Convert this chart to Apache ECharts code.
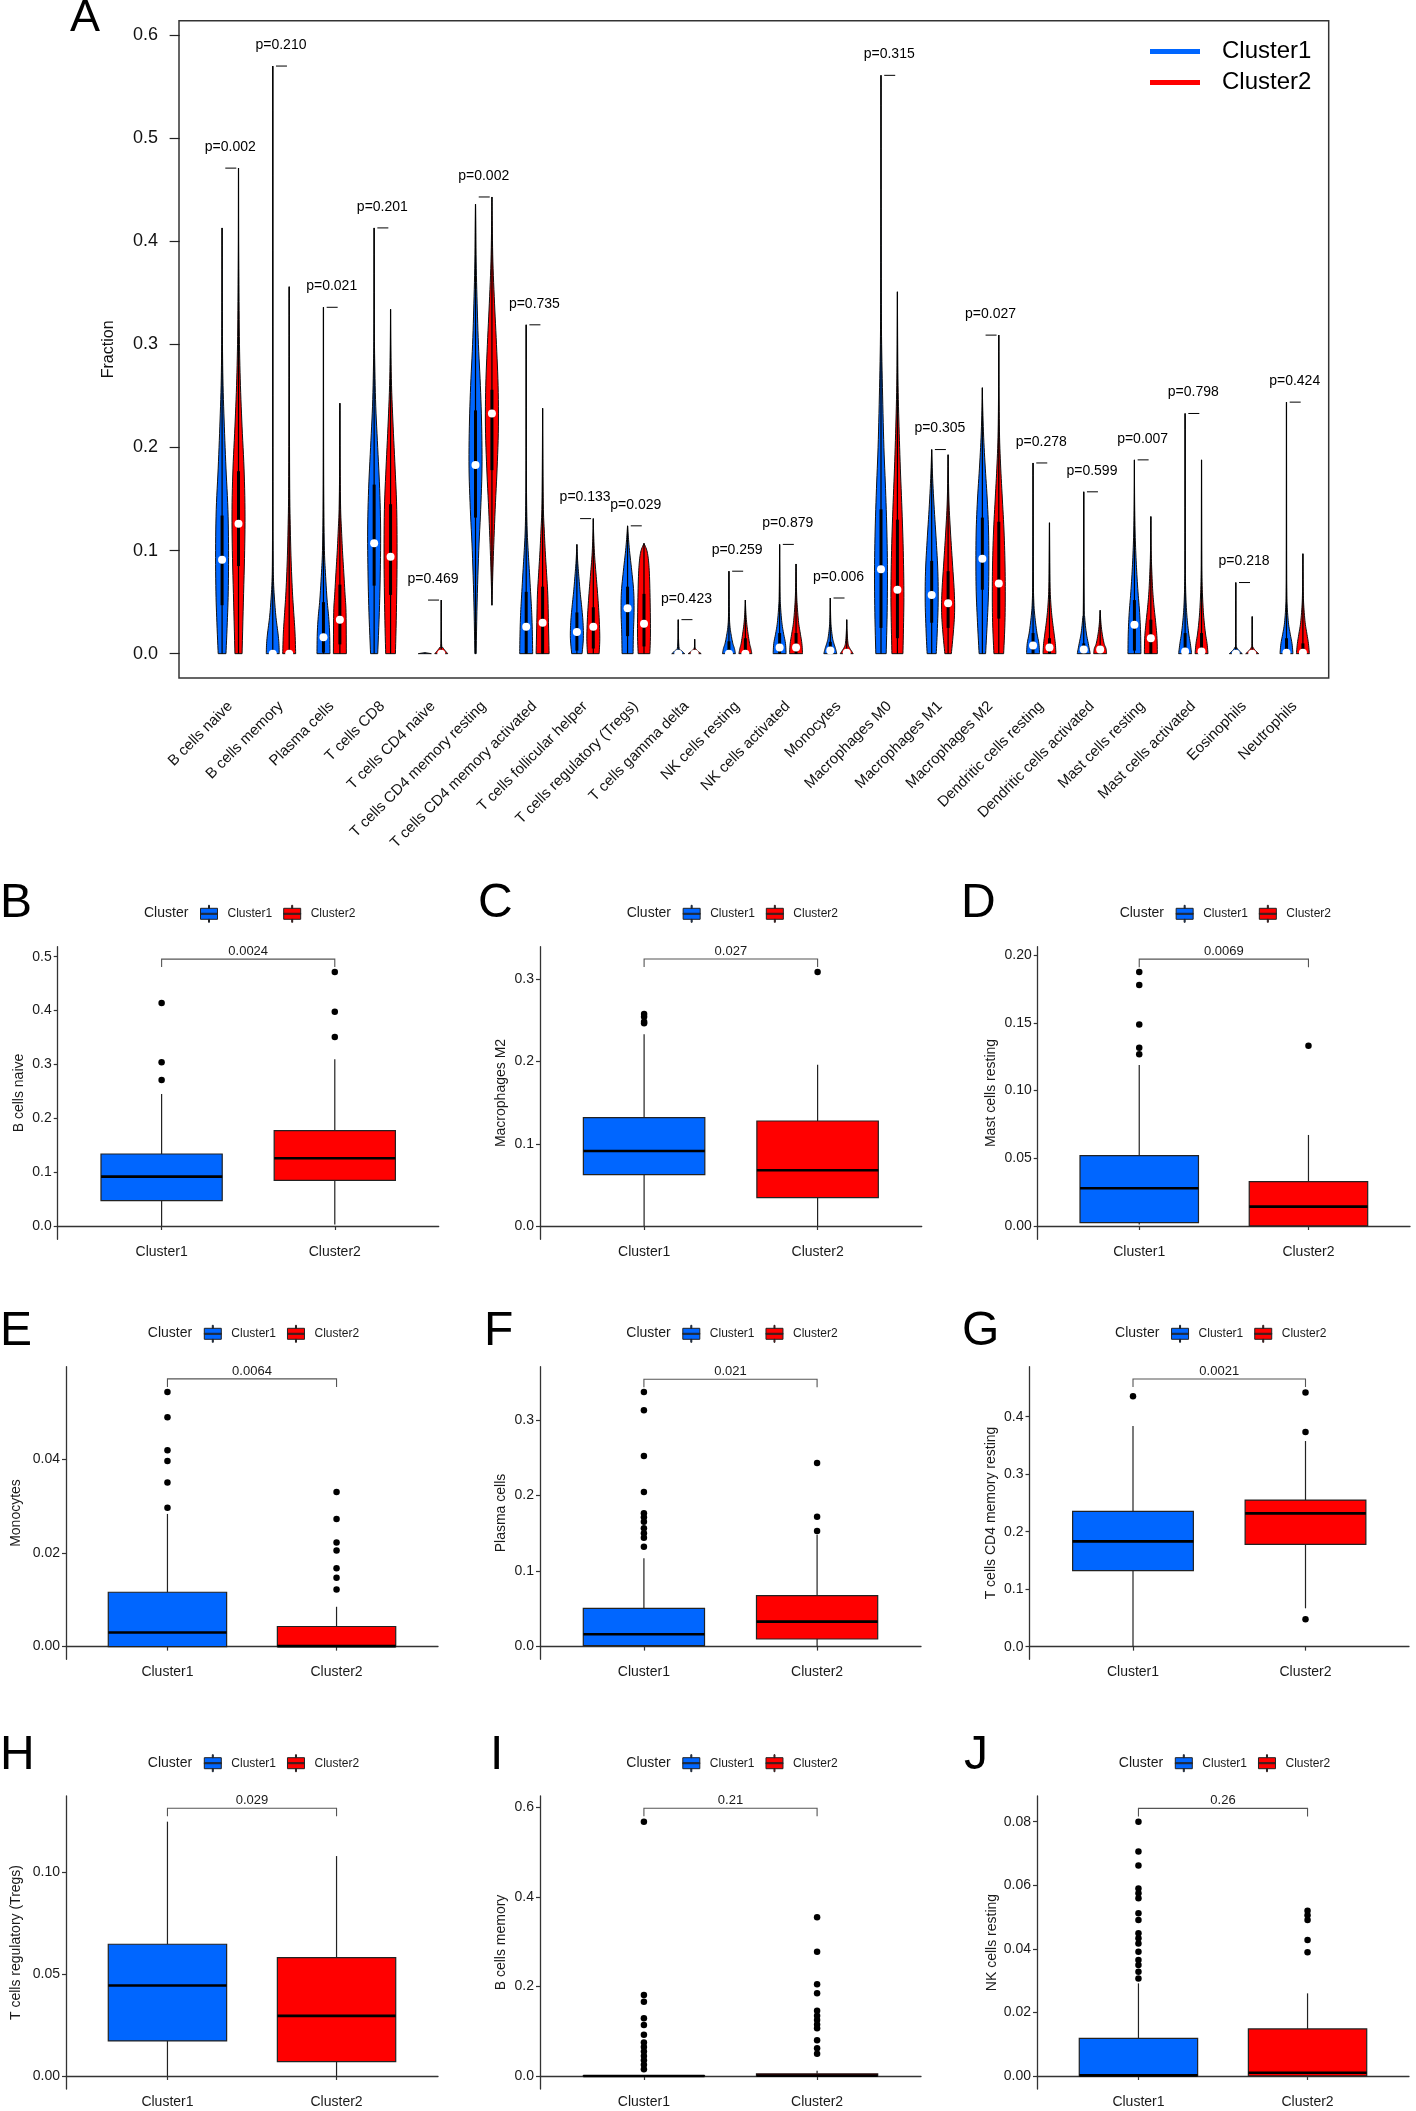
<!DOCTYPE html>
<html><head><meta charset="utf-8">
<script src="https://cdn.jsdelivr.net/npm/echarts@6/dist/echarts.min.js"></script>
<style>html,body{margin:0;padding:0;background:#fff}#c{width:1416px;height:2111px}</style>
</head><body><div id="c"></div>
<script>
const FONT = '"Liberation Sans", Arial, sans-serif';
const BLUE = '#0066FF', RED = '#FF0000';

// ---------- Panel A data ----------
const cellTypes = ['B cells naive','B cells memory','Plasma cells','T cells CD8','T cells CD4 naive','T cells CD4 memory resting','T cells CD4 memory activated','T cells follicular helper','T cells regulatory (Tregs)','T cells gamma delta','NK cells resting','NK cells activated','Monocytes','Macrophages M0','Macrophages M1','Macrophages M2','Dendritic cells resting','Dendritic cells activated','Mast cells resting','Mast cells activated','Eosinophils','Neutrophils'];
const pValues = ['0.002','0.210','0.021','0.201','0.469','0.002','0.735','0.133','0.029','0.423','0.259','0.879','0.006','0.315','0.305','0.027','0.278','0.599','0.007','0.798','0.218','0.424'];
const c1Max = [0.413,0.570,0.336,0.413,0.001,0.436,0.319,0.106,0.124,0.033,0.080,0.106,0.054,0.561,0.198,0.258,0.185,0.157,0.188,0.233,0.069,0.244];
const c2Max = [0.471,0.356,0.243,0.334,0.052,0.443,0.238,0.131,0.107,0.014,0.052,0.087,0.033,0.351,0.193,0.309,0.127,0.042,0.133,0.188,0.036,0.097];
const c1Median = [0.091,0,0.016,0.107,null,0.183,0.026,0.021,0.044,0,0,0.006,0.003,0.082,0.057,0.092,0.008,0.004,0.028,0.002,0,0.001];
const c2Median = [0.126,0,0.033,0.094,0,0.233,0.030,0.026,0.029,0,0,0.006,0.001,0.062,0.049,0.068,0.006,0.004,0.015,0.002,0,0.001];
const c1Q1 = [0.047,0,0.001,0.066,0,0.132,0,0.003,0.017,0,0,0,0,0.025,0.03,0.062,0,0,0.003,0,0,0];
const c1Q3 = [0.134,0.001,0.05,0.164,0,0.236,0.06,0.04,0.065,0,0.012,0.02,0.0115,0.14,0.09,0.132,0.02,0.01,0.052,0.02,0,0.015];
const c2Q1 = [0.085,0,0.009,0.057,0,0.178,0,0.005,0.007,0,0,0,0,0.015,0.025,0.034,0,0,0,0,0,0];
const c2Q3 = [0.177,0.003,0.067,0.145,0,0.256,0.065,0.045,0.058,0,0.015,0.02,0.0045,0.13,0.08,0.128,0.015,0.008,0.033,0.02,0,0.01];
// relative density profiles [value, relative density]
const c1Density = [
 [[0,.6],[.03,.8],[.06,.95],[.1,1],[.14,.9],[.18,.6],[.22,.35],[.26,.15],[.3,.06],[.35,.02]],
 [[0,1],[.01,.95],[.02,.8],[.035,.5],[.05,.3],[.07,.12],[.1,.05],[.2,.02]],
 [[0,1],[.02,.95],[.036,.8],[.053,.55],[.079,.3],[.1,.15],[.14,.06],[.2,.02]],
 [[0,.55],[.04,.8],[.08,.95],[.12,1],[.16,.85],[.2,.55],[.24,.25],[.28,.1],[.32,.03]],
 [[0,1]],
 [[0,.1],[.05,.25],[.1,.5],[.14,.8],[.18,1],[.22,.95],[.26,.75],[.3,.45],[.34,.25],[.38,.1],[.42,.03]],
 [[0,1],[.02,.95],[.04,.85],[.057,.7],[.079,.5],[.1,.3],[.12,.15],[.15,.06],[.2,.02]],
 [[0,.8],[.015,1],[.03,.95],[.045,.75],[.06,.5],[.075,.3],[.09,.12]],
 [[0,.85],[.02,.9],[.04,1],[.06,.95],[.08,.65],[.1,.3],[.115,.1]],
 [[0,1],[.003,.5],[.007,.1]],
 [[0,1],[.005,.85],[.01,.6],[.018,.35],[.027,.15],[.04,.06]],
 [[0,1],[.01,.9],[.02,.6],[.03,.35],[.045,.15],[.06,.06]],
 [[0,1],[.005,.8],[.01,.55],[.015,.35],[.025,.15],[.035,.06]],
 [[0,.8],[.04,.95],[.08,1],[.12,.9],[.16,.7],[.2,.45],[.25,.25],[.3,.1],[.35,.04],[.45,.01]],
 [[0,.7],[.02,.85],[.05,1],[.08,.95],[.11,.7],[.14,.4],[.17,.15]],
 [[0,.5],[.03,.75],[.06,.95],[.09,1],[.12,.95],[.15,.75],[.18,.45],[.21,.2],[.24,.05]],
 [[0,1],[.01,.9],[.02,.6],[.035,.3],[.05,.12],[.08,.04]],
 [[0,1],[.01,.7],[.02,.4],[.035,.15],[.05,.06]],
 [[0,1],[.02,.95],[.04,.8],[.06,.55],[.08,.35],[.1,.2],[.12,.1],[.15,.03]],
 [[0,1],[.01,.8],[.02,.55],[.035,.3],[.05,.15],[.07,.06],[.1,.02]],
 [[0,1],[.003,.5],[.006,.15],[.01,.04]],
 [[0,1],[.01,.85],[.02,.55],[.03,.3],[.045,.12],[.06,.05],[.1,.02]]
];
const c2Density = [
 [[0,.55],[.05,.75],[.1,.95],[.14,1],[.18,.85],[.22,.55],[.26,.3],[.3,.15],[.35,.07],[.4,.02]],
 [[0,1],[.02,.9],[.04,.7],[.06,.5],[.09,.3],[.12,.18],[.16,.08],[.25,.03]],
 [[0,1],[.04,.95],[.057,.8],[.079,.6],[.1,.4],[.12,.25],[.14,.12],[.18,.04]],
 [[0,.75],[.04,.9],[.09,1],[.14,.95],[.18,.7],[.22,.4],[.26,.15],[.3,.04]],
 [[0,1],[.003,.6],[.006,.25],[.01,.05]],
 [[.047,0],[.07,.1],[.1,.25],[.14,.5],[.18,.8],[.22,1],[.26,.95],[.3,.7],[.34,.4],[.38,.15],[.42,.04]],
 [[0,1],[.03,.9],[.057,.8],[.079,.6],[.1,.4],[.12,.25],[.14,.12],[.18,.05]],
 [[0,.9],[.015,1],[.035,.9],[.055,.7],[.075,.45],[.095,.2],[.115,.06]],
 [[0,.9],[.02,1],[.05,.95],[.075,.85],[.09,.7],[.1,.45]],
 [[0,1],[.003,.4],[.006,.05]],
 [[0,1],[.005,.85],[.01,.65],[.02,.4],[.03,.2],[.04,.08]],
 [[0,1],[.01,.9],[.02,.65],[.03,.4],[.045,.2],[.06,.08]],
 [[0,1],[.003,.7],[.006,.4],[.01,.2],[.02,.07]],
 [[0,.85],[.03,.95],[.06,1],[.1,.9],[.14,.7],[.18,.45],[.22,.25],[.26,.1],[.3,.04]],
 [[0,.5],[.02,.8],[.04,1],[.06,.95],[.09,.65],[.12,.35],[.15,.12]],
 [[0,.75],[.03,.95],[.06,1],[.09,.95],[.12,.8],[.15,.55],[.18,.3],[.21,.12],[.25,.04]],
 [[0,1],[.01,.9],[.02,.7],[.035,.4],[.05,.2],[.07,.08]],
 [[0,1],[.005,.9],[.01,.6],[.02,.3],[.03,.12]],
 [[0,1],[.015,.95],[.03,.75],[.045,.5],[.06,.3],[.08,.15],[.1,.05]],
 [[0,1],[.01,.85],[.02,.6],[.035,.35],[.05,.2],[.07,.08],[.1,.03]],
 [[0,1],[.003,.5],[.006,.15],[.01,.04]],
 [[0,1],[.01,.85],[.02,.6],[.03,.35],[.045,.15],[.06,.06]]
];
const yTicksA = [0,0.1,0.2,0.3,0.4,0.5,0.6];

// ---------- Box panels data ----------
const clusterNames = ['Cluster1','Cluster2'];
const boxLetters = ['B','C','D','E','F','G','H','I','J'];
const boxNames = ['B cells naive','Macrophages M2','Mast cells resting','Monocytes','Plasma cells','T cells CD4 memory resting','T cells regulatory (Tregs)','B cells memory','NK cells resting'];
const boxP = ['0.0024','0.027','0.0069','0.0064','0.021','0.0021','0.029','0.21','0.26'];
// [lower whisker, Q1, median, Q3, upper whisker]
const boxStats1 = [
 [0,0.047,0.0916,0.1337,0.245],
 [0,0.0624,0.0912,0.1318,0.2331],
 [0.001,0.0025,0.0278,0.0519,0.1188],
 [0,0,0.003,0.0116,0.0283],
 [0,0.0013,0.0163,0.0507,0.1169],
 [0,0.1322,0.1832,0.2354,0.3838],
 [0,0.0172,0.0444,0.0647,0.1249],
 [0,0,0,0.001,0.002],
 [0,0,0.0002,0.01185,0.02915]
];
const boxStats2 = [
 [0.003,0.0848,0.1257,0.177,0.3095],
 [0,0.0345,0.0677,0.1277,0.1962],
 [0,0,0.0143,0.0327,0.0672],
 [0,0,0.0001,0.0043,0.0085],
 [0,0.0101,0.0331,0.0675,0.148],
 [0.0667,0.178,0.2319,0.255,0.3577],
 [0,0.007,0.0295,0.0581,0.108],
 [0,0,0.001,0.005,0.012],
 [0,0,0.001,0.0148,0.026]
];
const boxOut1 = [
 [0.414,0.304,0.271],
 [0.2578,0.2546,0.2485,0.2465],
 [0.1875,0.1779,0.1488,0.1316,0.1267],
 [0.0543,0.0489,0.0419,0.0396,0.035,0.0296],
 [0.337,0.313,0.2523,0.2047,0.1765,0.1712,0.1654,0.1566,0.15,0.1442,0.1323],
 [0.4354],
 [],
 [0.5687,0.181,0.166,0.129,0.114,0.092,0.075,0.065,0.055,0.045,0.035,0.025,0.015],
 [0.08,0.0706,0.0662,0.059,0.0575,0.0559,0.0512,0.0491,0.0449,0.0433,0.0417,0.0391,0.0365,0.0349,0.0328,0.0307]
];
const boxOut2 = [
 [0.4717,0.398,0.351],
 [0.3089],
 [0.1331],
 [0.033,0.0272,0.0222,0.0205,0.0167,0.0147,0.0122],
 [0.243,0.172,0.153],
 [0.4423,0.3733,0.0475],
 [],
 [0.355,0.278,0.205,0.185,0.146,0.135,0.125,0.115,0.107,0.08,0.062,0.05],
 [0.052,0.0506,0.0491,0.0428,0.0389]
];
const boxBracket = [0.4956,0.3247,0.197,0.0571,0.354,0.4655,0.1315,0.5985,0.0842];
const boxYTicks = [
 [0,0.1,0.2,0.3,0.4,0.5],
 [0,0.1,0.2,0.3],
 [0,0.05,0.1,0.15,0.2],
 [0,0.02,0.04],
 [0,0.1,0.2,0.3],
 [0,0.1,0.2,0.3,0.4],
 [0,0.05,0.1],
 [0,0.2,0.4,0.6],
 [0,0.02,0.04,0.06,0.08]
];

// ---------- layout (positions only) ----------
const boxLayout = [
 {left:57.7, top:946.7, width:381, height:292.6, ymin:-0.0247, ymax:0.5186, dec:1, gap:32, lx:0, ly:904, gy:913.3},
 {left:540, top:946.7, width:381.7, height:292.6, ymin:-0.0162, ymax:0.3397, dec:1, gap:32, lx:478, ly:904, gy:913.3},
 {left:1037.7, top:946.7, width:372.3, height:292.6, ymin:-0.00984, ymax:0.2062, dec:2, gap:40, lx:961, ly:904, gy:913.3},
 {left:66, top:1366.7, width:372, height:292.6, ymin:-0.0027, ymax:0.0597, dec:2, gap:43, lx:0, ly:1331.7, gy:1333.3},
 {left:540, top:1366.7, width:381, height:292.6, ymin:-0.0168, ymax:0.3706, dec:1, gap:32, lx:484, ly:1331.7, gy:1333.3},
 {left:1029.5, top:1366.7, width:379.5, height:292.6, ymin:-0.022, ymax:0.487, dec:1, gap:31, lx:962, ly:1331.7, gy:1333.3},
 {left:66, top:1796, width:372, height:293, ymin:-0.0064, ymax:0.1375, dec:2, gap:43, lx:0, ly:1755.5, gy:1762.7},
 {left:540, top:1796, width:381, height:293, ymin:-0.029, ymax:0.626, dec:1, gap:32, lx:490, ly:1755.5, gy:1762.7},
 {left:1037, top:1796, width:372, height:293, ymin:-0.0041, ymax:0.0881, dec:2, gap:38, lx:964, ly:1755.5, gy:1762.7}
];

// smooth an outline (pixel space) with Catmull-Rom, drawing only
function smoothSide(pts) {
  if (pts.length < 3) return pts;
  const out = [];
  for (let i = 0; i < pts.length - 1; i++) {
    const p0 = pts[Math.max(i - 1, 0)], p1 = pts[i], p2 = pts[i + 1], p3 = pts[Math.min(i + 2, pts.length - 1)];
    for (let s = 0; s < 6; s++) {
      const t = s / 6, t2 = t * t, t3 = t2 * t;
      const f = (a, b, c, d) => 0.5 * ((2 * b) + (-a + c) * t + (2 * a - 5 * b + 4 * c - d) * t2 + (-a + 3 * b - 3 * c + d) * t3);
      out.push([Math.max(0, f(p0[0], p1[0], p2[0], p3[0])), f(p0[1], p1[1], p2[1], p3[1])]);
    }
  }
  out.push(pts[pts.length - 1]);
  return out;
}

function violinItem(dens, maxA, medA, q1A, q3A, sign, color) {
  return function (params, api) {
    const i = params.dataIndex;
    const xv = api.value(0);
    const unit = api.size([1, 0])[0];
    const cx = api.coord([xv, 0])[0] + sign * 0.162 * unit;
    const hw = 0.128 * unit;
    const prof = dens[i].concat([[maxA[i], 0]]);
    const Y = v => api.coord([xv, v])[1];
    // side as [halfwidth px, y px]
    const side = smoothSide(prof.map(p => [p[1] * hw, Y(p[0])]));
    const pts = side.map(p => [cx + p[0], p[1]]);
    for (let k = side.length - 1; k >= 0; k--) pts.push([cx - side[k][0], side[k][1]]);
    const ch = [
      {type:'polygon', shape:{points:pts}, style:{fill:color, stroke:'#111', lineWidth:1}},
      {type:'line', shape:{x1:cx, y1:Y(prof[0][0]), x2:cx, y2:Y(maxA[i])}, style:{stroke:'#000', lineWidth:1.2, fill:'none'}}
    ];
    if (q3A[i] > q1A[i]) ch.push({type:'line', shape:{x1:cx, y1:Y(q1A[i]), x2:cx, y2:Y(q3A[i])}, style:{stroke:'#000', lineWidth:3, fill:'none'}});
    if (medA[i] != null) ch.push({type:'circle', shape:{cx:cx, cy:Y(medA[i]), r:4}, style:{fill:'#fff', stroke:'none'}});
    return {type:'group', children:ch};
  };
}

function boxItem(color) {
  return function (params, api) {
    const xv = api.value(0);
    const unit = api.size([1, 0])[0];
    const hw = 0.35 * unit;
    const px = api.coord([xv, 0])[0];
    const y = [1,2,3,4,5].map(d => api.coord([xv, api.value(d)])[1]);
    return {type:'group', children:[
      {type:'line', shape:{x1:px, y1:y[0], x2:px, y2:y[1]}, style:{stroke:'#222', lineWidth:1.2, fill:'none'}},
      {type:'line', shape:{x1:px, y1:y[3], x2:px, y2:y[4]}, style:{stroke:'#222', lineWidth:1.2, fill:'none'}},
      {type:'rect', shape:{x:px-hw, y:y[3], width:2*hw, height:Math.max(y[1]-y[3], 0.5)}, style:{fill:color, stroke:'#222', lineWidth:1.2}},
      {type:'line', shape:{x1:px-hw, y1:y[2], x2:px+hw, y2:y[2]}, style:{stroke:'#000', lineWidth:2.6, fill:'none'}}
    ]};
  };
}

const grids = [{left:179, top:20.7, width:1149.7, height:657.3, show:true, borderColor:'#333', borderWidth:1.5, backgroundColor:'transparent', outerBoundsMode:'none'}];
const xAxes = [{type:'value', gridIndex:0, min:-0.012, max:22.671, axisLine:{show:false}, axisTick:{show:false}, splitLine:{show:false},
  axisLabel:{customValues:cellTypes.map((_, i) => i + 1), formatter:v => cellTypes[Math.round(v) - 1] || '', rotate:45, fontSize:15, color:'#111', margin:26, fontFamily:FONT}}];
const yAxes = [{type:'value', gridIndex:0, min:-0.0236, max:0.614, axisLine:{show:false}, splitLine:{show:false},
  axisTick:{show:true, customValues:yTicksA, length:10, lineStyle:{color:'#222', width:1.2}},
  axisLabel:{customValues:yTicksA, formatter:v => v.toFixed(1), fontSize:18, color:'#111', margin:21, fontFamily:FONT},
  name:'Fraction', nameLocation:'middle', nameRotate:90, nameGap:62, nameTextStyle:{fontSize:16, color:'#111', fontFamily:FONT}}];

const series = [
  {type:'custom', name:'Cluster1', xAxisIndex:0, yAxisIndex:0, itemStyle:{color:BLUE}, encode:{x:0, y:1},
   data:cellTypes.map((_, i) => [i + 1, c1Max[i]]), renderItem:violinItem(c1Density, c1Max, c1Median, c1Q1, c1Q3, -1, BLUE)},
  {type:'custom', name:'Cluster2', xAxisIndex:0, yAxisIndex:0, itemStyle:{color:RED}, encode:{x:0, y:1},
   data:cellTypes.map((_, i) => [i + 1, c2Max[i]]), renderItem:violinItem(c2Density, c2Max, c2Median, c2Q1, c2Q3, 1, RED)},
  {type:'custom', name:'pA', xAxisIndex:0, yAxisIndex:0, encode:{x:0, y:1}, z:5,
   data:cellTypes.map((_, i) => [i + 1, Math.max(c1Max[i], c2Max[i])]),
   renderItem:function (params, api) {
     const p = api.coord([api.value(0), api.value(1)]);
     return {type:'group', children:[
       {type:'line', shape:{x1:p[0]-5, y1:p[1], x2:p[0]+6, y2:p[1]}, style:{stroke:'#000', lineWidth:1, fill:'none'}},
       {type:'text', x:p[0], y:p[1]-21, style:{text:'p=' + pValues[params.dataIndex], font:'14px ' + FONT, fill:'#000', align:'center', verticalAlign:'middle', textAlign:'center', textVerticalAlign:'middle'}}
     ]};
   }}
];

const legends = [{data:['Cluster1','Cluster2'], orient:'vertical', left:1145, top:34.5, padding:5, icon:'rect', itemWidth:50, itemHeight:5, itemGap:7,
  itemStyle:{borderWidth:0}, selectedMode:false, textStyle:{fontSize:24, lineHeight:24, color:'#000', fontFamily:FONT, padding:[0,0,0,17]}}];

const BOX_ICON = 'path://M0,3H17V14H0Z M8,0H9V3H8Z M8,14H9V17H8Z M0,8H17V9H0Z';
const graphics = [{type:'text', x:70, y:18.5, style:{text:'A', font:'45px ' + FONT, fill:'#000', verticalAlign:'middle', textVerticalAlign:'middle'}}];

boxNames.forEach((nm, k) => {
  const L = boxLayout[k];
  const g = k + 1;
  const cx = L.left + L.width / 2;
  grids.push({left:L.left, top:L.top, width:L.width, height:L.height, outerBoundsMode:'none'});
  xAxes.push({type:'value', gridIndex:g, min:0.4, max:2.6, splitLine:{show:false},
    axisLine:{show:true, lineStyle:{color:'#333', width:1.3}},
    axisTick:{show:true, customValues:[1,2], length:4, lineStyle:{color:'#333', width:1.2}},
    axisLabel:{customValues:[1,2], formatter:v => clusterNames[Math.round(v) - 1], fontSize:14, color:'#1a1a1a', margin:6, fontFamily:FONT}});
  yAxes.push({type:'value', gridIndex:g, min:L.ymin, max:L.ymax, splitLine:{show:false},
    axisLine:{show:true, lineStyle:{color:'#333', width:1.3}},
    axisTick:{show:true, customValues:boxYTicks[k], length:4, lineStyle:{color:'#333', width:1.2}},
    axisLabel:{customValues:boxYTicks[k], formatter:v => v.toFixed(L.dec), fontSize:14, color:'#1a1a1a', margin:6, fontFamily:FONT},
    name:nm, nameLocation:'middle', nameRotate:90, nameGap:L.gap, nameTextStyle:{fontSize:14, color:'#1a1a1a', fontFamily:FONT}});
  series.push(
    {type:'custom', name:'Cluster1', xAxisIndex:g, yAxisIndex:g, itemStyle:{color:BLUE}, encode:{x:0, y:[1,2,3,4,5]},
     data:[[1].concat(boxStats1[k])], renderItem:boxItem(BLUE)},
    {type:'custom', name:'Cluster2', xAxisIndex:g, yAxisIndex:g, itemStyle:{color:RED}, encode:{x:0, y:[1,2,3,4,5]},
     data:[[2].concat(boxStats2[k])], renderItem:boxItem(RED)},
    {type:'scatter', name:'out1', xAxisIndex:g, yAxisIndex:g, symbol:'circle', symbolSize:6.5, silent:true, z:4,
     itemStyle:{color:'#000', opacity:1}, data:boxOut1[k].map(v => [1, v])},
    {type:'scatter', name:'out2', xAxisIndex:g, yAxisIndex:g, symbol:'circle', symbolSize:6.5, silent:true, z:4,
     itemStyle:{color:'#000', opacity:1}, data:boxOut2[k].map(v => [2, v])},
    {type:'custom', name:'bracket', xAxisIndex:g, yAxisIndex:g, encode:{x:[0,1], y:2}, z:5,
     data:[[1, 2, boxBracket[k]]],
     renderItem:function (params, api) {
       const a = api.coord([api.value(0), api.value(2)]);
       const b = api.coord([api.value(1), api.value(2)]);
       return {type:'group', children:[
         {type:'polyline', shape:{points:[[a[0], a[1]+8], [a[0], a[1]], [b[0], b[1]], [b[0], b[1]+8]]}, style:{stroke:'#555', lineWidth:1.1, fill:'none'}},
         {type:'text', x:(a[0]+b[0])/2, y:a[1]-7.5, style:{text:boxP[k], font:'13px ' + FONT, fill:'#1a1a1a', align:'center', verticalAlign:'middle', textAlign:'center', textVerticalAlign:'middle'}}
       ]};
     }}
  );
  legends.push({data:['Cluster1','Cluster2'], left:cx - 48.2, top:L.gy - 8.5, padding:0, itemGap:11, itemWidth:17, itemHeight:17,
    icon:BOX_ICON, itemStyle:{borderColor:'#222', borderWidth:1}, selectedMode:false,
    textStyle:{fontSize:12, color:'#1a1a1a', fontFamily:FONT, padding:[0,0,0,5]}});
  graphics.push(
    {type:'text', x:L.lx, y:L.ly, style:{text:boxLetters[k], font:'48px ' + FONT, fill:'#000', verticalAlign:'middle', textVerticalAlign:'middle'}},
    {type:'text', x:cx - 104.2, y:L.gy, style:{text:'Cluster', font:'14px ' + FONT, fill:'#1a1a1a', verticalAlign:'middle', textVerticalAlign:'middle'}}
  );
});

const chart = echarts.init(document.getElementById('c'), null, {renderer:'canvas'});
chart.setOption({
  animation:false,
  backgroundColor:'#fff',
  textStyle:{fontFamily:FONT},
  grid:grids, xAxis:xAxes, yAxis:yAxes, series:series, legend:legends, graphic:graphics,
  tooltip:{show:false}
});
</script></body></html>
